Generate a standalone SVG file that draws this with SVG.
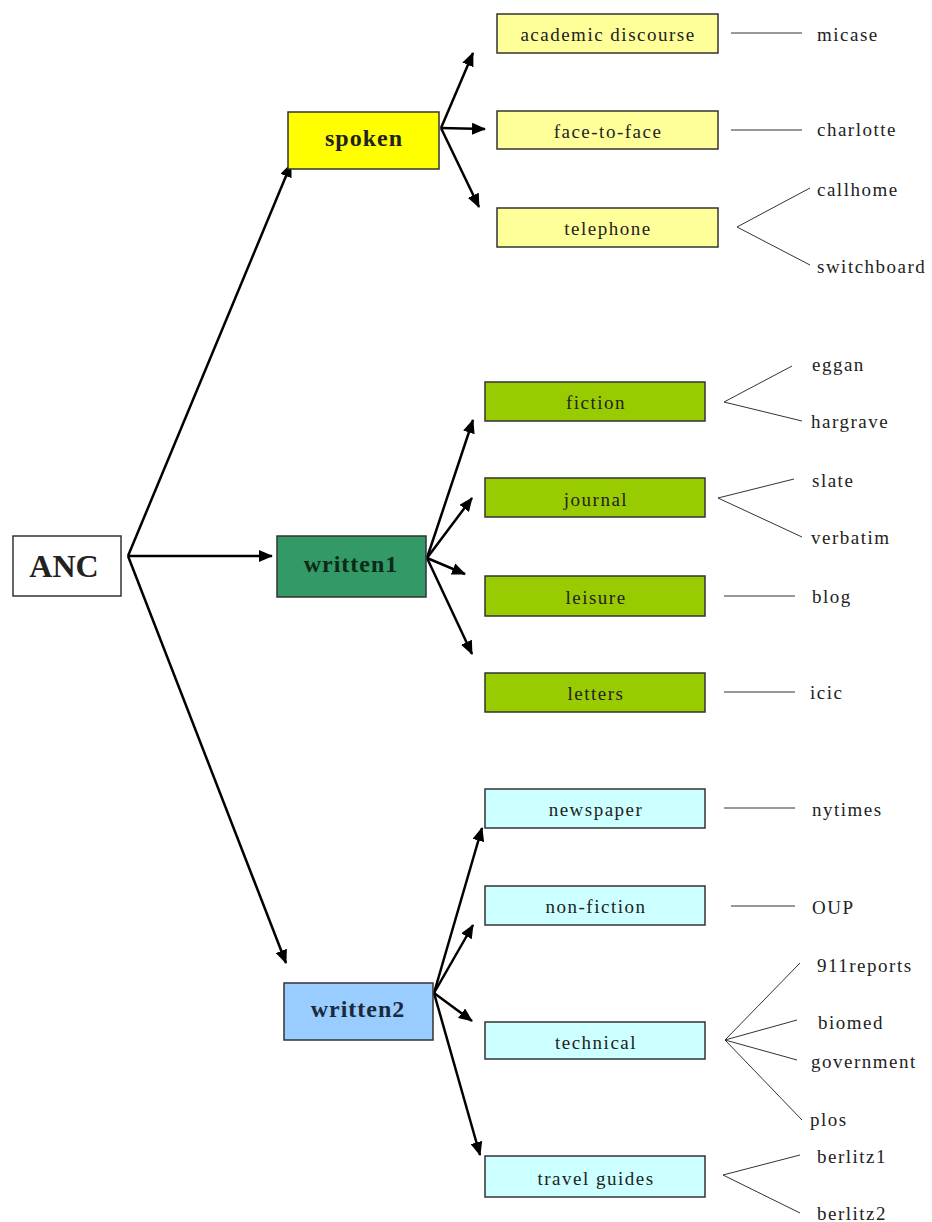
<svg xmlns="http://www.w3.org/2000/svg" width="932" height="1222" viewBox="0 0 932 1222">
<style>
  .box { stroke: #333; stroke-width: 1.5; }
  .t { font-family: "Liberation Serif", "Times New Roman", serif; font-size: 19px; letter-spacing: 1.5px; fill: #222; }
  .tc { text-anchor: middle; dominant-baseline: central; }
  .big { font-weight: bold; font-size: 24px; letter-spacing: 1px; }
  .arrow { stroke: #000; stroke-width: 2.5; fill: none; marker-end: url(#ah); }
  .leaf { stroke: #333; stroke-width: 1; fill: none; }
  .sp1 { fill: #ffff00; } .sp2 { fill: #ffff99; }
  .w1 { fill: #339966; } .w1s { fill: #99cc00; }
  .w2 { fill: #99ccff; } .w2s { fill: #ccffff; }
</style>
<defs>
  <marker id="ah" markerUnits="userSpaceOnUse" markerWidth="14" markerHeight="12" refX="13" refY="6" orient="auto">
    <path d="M0,0 L14,6 L0,12 z" fill="#000"/>
  </marker>
</defs>
<rect width="932" height="1222" fill="#fff"/>

<g id="connectors">
  <line class="arrow" x1="128" y1="556" x2="291" y2="164"/>
  <line class="arrow" x1="128" y1="556" x2="272" y2="556"/>
  <line class="arrow" x1="128" y1="556" x2="286" y2="963"/>
  <line class="arrow" x1="441" y1="128" x2="473" y2="53"/>
  <line class="arrow" x1="441" y1="128" x2="485" y2="129"/>
  <line class="arrow" x1="441" y1="128" x2="479" y2="207"/>
  <line class="arrow" x1="427" y1="558" x2="473" y2="420"/>
  <line class="arrow" x1="427" y1="558" x2="472" y2="498"/>
  <line class="arrow" x1="427" y1="558" x2="465" y2="574"/>
  <line class="arrow" x1="427" y1="558" x2="472" y2="654"/>
  <line class="arrow" x1="434" y1="993" x2="482" y2="828"/>
  <line class="arrow" x1="434" y1="993" x2="473" y2="925"/>
  <line class="arrow" x1="434" y1="993" x2="472" y2="1021"/>
  <line class="arrow" x1="434" y1="993" x2="480" y2="1155"/>
  <line class="leaf" x1="731" y1="33" x2="802" y2="33"/>
  <line class="leaf" x1="731" y1="130" x2="802" y2="130"/>
  <polyline class="leaf" points="810,188 737,227 810,265"/>
  <polyline class="leaf" points="792,366 724,402 802,421"/>
  <polyline class="leaf" points="794,479 718,498 802,537"/>
  <line class="leaf" x1="724" y1="596" x2="795" y2="596"/>
  <line class="leaf" x1="724" y1="692" x2="795" y2="692"/>
  <line class="leaf" x1="724" y1="808" x2="795" y2="808"/>
  <line class="leaf" x1="731" y1="906" x2="795" y2="906"/>
  <line class="leaf" x1="725" y1="1040" x2="800" y2="963"/>
  <line class="leaf" x1="725" y1="1040" x2="797" y2="1020"/>
  <line class="leaf" x1="725" y1="1040" x2="797" y2="1060"/>
  <line class="leaf" x1="725" y1="1040" x2="802" y2="1120"/>
  <polyline class="leaf" points="800,1155 723,1175 800,1213"/>
</g>

<g id="ANC"><rect class="box" x="13" y="536" width="108" height="60" fill="#fff"/><text class="t tc big" x="64" y="566" style="font-size:32px;letter-spacing:0">ANC</text></g>
<g id="spoken"><rect class="box sp1" x="288" y="112" width="151" height="57"/><text class="t tc big" x="364" y="138">spoken</text></g>
<g id="written1"><rect class="box w1" x="277" y="536" width="149" height="61"/><text class="t tc big" x="351" y="564" style="fill:#0b2a18">written1</text></g>
<g id="written2"><rect class="box w2" x="284" y="983" width="149" height="57"/><text class="t tc big" x="358" y="1009" style="fill:#1a2a3a">written2</text></g>

<g id="academic"><rect class="box sp2" x="497" y="14" width="221" height="39"/><text class="t tc" x="608" y="34">academic discourse</text></g>
<g id="face"><rect class="box sp2" x="497" y="111" width="221" height="38"/><text class="t tc" x="608" y="131">face-to-face</text></g>
<g id="telephone"><rect class="box sp2" x="497" y="208" width="221" height="39"/><text class="t tc" x="608" y="228">telephone</text></g>

<g id="fiction"><rect class="box w1s" x="485" y="382" width="220" height="39"/><text class="t tc" x="596" y="402">fiction</text></g>
<g id="journal"><rect class="box w1s" x="485" y="478" width="220" height="39"/><text class="t tc" x="596" y="499">journal</text></g>
<g id="leisure"><rect class="box w1s" x="485" y="576" width="220" height="40"/><text class="t tc" x="596" y="597">leisure</text></g>
<g id="letters"><rect class="box w1s" x="485" y="673" width="220" height="39"/><text class="t tc" x="596" y="693">letters</text></g>

<g id="newspaper"><rect class="box w2s" x="485" y="789" width="220" height="39"/><text class="t tc" x="596" y="809">newspaper</text></g>
<g id="nonfiction"><rect class="box w2s" x="485" y="886" width="220" height="39"/><text class="t tc" x="596" y="906">non-fiction</text></g>
<g id="technical"><rect class="box w2s" x="485" y="1022" width="220" height="37"/><text class="t tc" x="596" y="1042">technical</text></g>
<g id="travel"><rect class="box w2s" x="485" y="1156" width="220" height="41"/><text class="t tc" x="596" y="1178">travel guides</text></g>

<g id="leaves">
  <text class="t" x="817" y="41">micase</text>
  <text class="t" x="817" y="136">charlotte</text>
  <text class="t" x="817" y="196">callhome</text>
  <text class="t" x="817" y="273">switchboard</text>
  <text class="t" x="812" y="371">eggan</text>
  <text class="t" x="811" y="428">hargrave</text>
  <text class="t" x="812" y="487">slate</text>
  <text class="t" x="811" y="544">verbatim</text>
  <text class="t" x="812" y="603">blog</text>
  <text class="t" x="810" y="699">icic</text>
  <text class="t" x="812" y="816">nytimes</text>
  <text class="t" x="812" y="914">OUP</text>
  <text class="t" x="817" y="972">911reports</text>
  <text class="t" x="818" y="1029">biomed</text>
  <text class="t" x="811" y="1068">government</text>
  <text class="t" x="810" y="1126">plos</text>
  <text class="t" x="817" y="1163">berlitz1</text>
  <text class="t" x="817" y="1220">berlitz2</text>
</g>
</svg>
